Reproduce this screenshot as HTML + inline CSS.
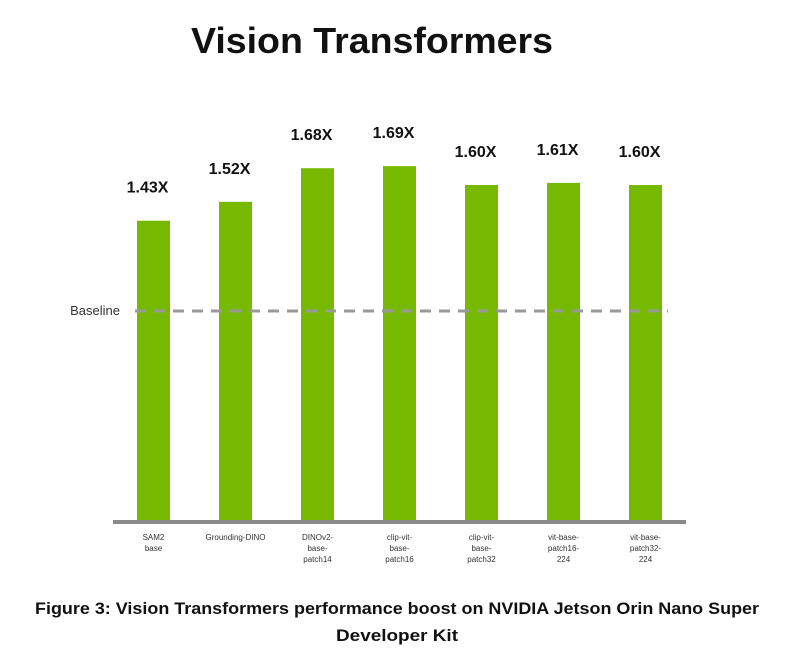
<!DOCTYPE html>
<html><head><meta charset="utf-8"><style>
body{margin:0;background:#fff;}
svg{display:block;font-family:"Liberation Sans",sans-serif;}
</style></head><body>
<svg id="chart" width="787" height="658">
<text x="372" y="53" text-anchor="middle" font-size="36" font-weight="bold" fill="#111" textLength="362" lengthAdjust="spacingAndGlyphs">Vision Transformers</text>
<g id="bars"></g>
<line x1="135" y1="311" x2="668" y2="311" stroke="#999" stroke-width="3" stroke-dasharray="11,8"/>
<text x="120" y="315" text-anchor="end" font-size="13" fill="#333">Baseline</text>
<line x1="113" y1="522" x2="686" y2="522" stroke="#8a8a8a" stroke-width="4"/>
<g id="xlabels"></g>
<text x="397" y="614" text-anchor="middle" font-size="17" font-weight="bold" fill="#111" textLength="724" lengthAdjust="spacingAndGlyphs">Figure 3:  Vision Transformers performance boost on NVIDIA Jetson Orin Nano Super</text>
<text x="397" y="641" text-anchor="middle" font-size="17" font-weight="bold" fill="#111" textLength="122" lengthAdjust="spacingAndGlyphs">Developer Kit</text>
</svg>
<script>
const categories=[["SAM2","base"],["Grounding-DINO"],["DINOv2-","base-","patch14"],["clip-vit-","base-","patch16"],["clip-vit-","base-","patch32"],["vit-base-","patch16-","224"],["vit-base-","patch32-","224"]];
const values=[1.43,1.52,1.68,1.69,1.60,1.61,1.60];
const valueLabels=["1.43X","1.52X","1.68X","1.69X","1.60X","1.61X","1.60X"];
const NS="http://www.w3.org/2000/svg";
const y0=521,unit=210;
function yScale(v){return y0-v*unit;}
function xCenter(i){return 153.5+82*i;}
const bars=document.getElementById('bars'),xl=document.getElementById('xlabels');
values.forEach((v,i)=>{
  const r=document.createElementNS(NS,'rect');
  r.setAttribute('x',xCenter(i)-16.5);r.setAttribute('y',yScale(v));
  r.setAttribute('width',33);r.setAttribute('height',y0-yScale(v));
  r.setAttribute('fill','#76b900');
  
  
  bars.appendChild(r);
  const t=document.createElementNS(NS,'text');
  t.setAttribute('x',xCenter(i)-6);t.setAttribute('y',yScale(v)-28);
  t.setAttribute('text-anchor','middle');t.setAttribute('font-size','16');
  t.setAttribute('font-weight','bold');t.setAttribute('fill','#111');
  t.textContent=valueLabels[i];
  
  
  bars.appendChild(t);
  categories[i].forEach((line,j)=>{
    const c=document.createElementNS(NS,'text');
    c.setAttribute('x',xCenter(i));c.setAttribute('y',540+j*11);
    c.setAttribute('text-anchor','middle');c.setAttribute('font-size','8');c.setAttribute('fill','#333');
    c.textContent=line;
    
    
    xl.appendChild(c);
  });
});
</script>
</body></html>
